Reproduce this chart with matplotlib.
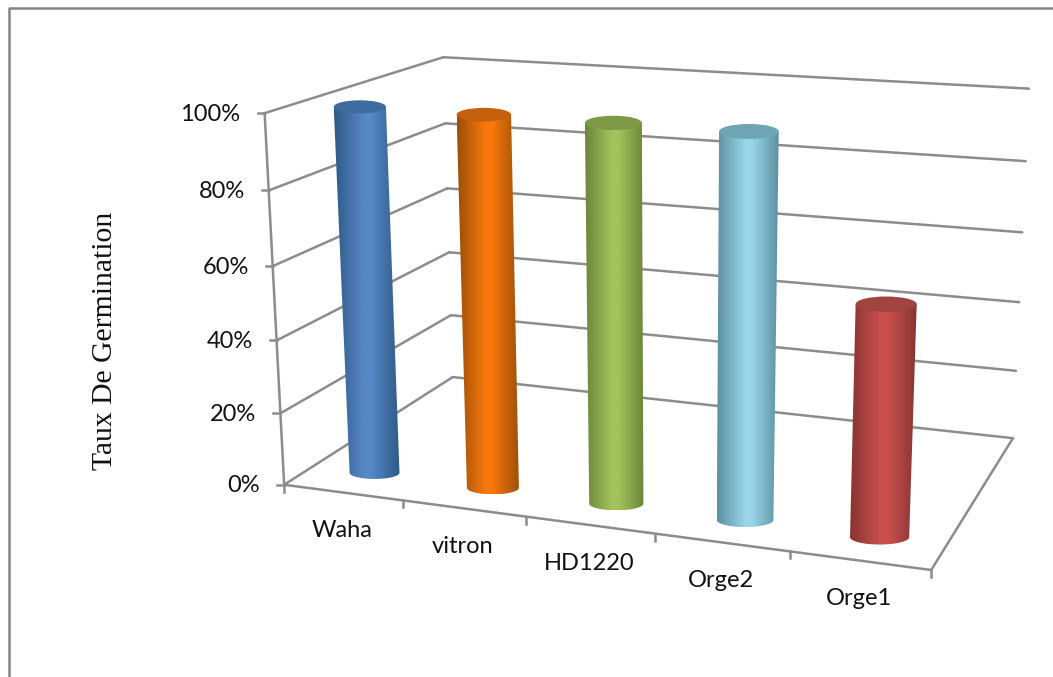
import numpy as np
import matplotlib
matplotlib.use('Agg')
import matplotlib.pyplot as plt
from matplotlib.colors import LinearSegmentedColormap
from matplotlib.patches import Ellipse, PathPatch
from matplotlib.path import Path

categories = ['Waha', 'vitron', 'HD1220', 'Orge2', 'Orge1']
values = [100, 100, 100, 100, 60]
value_ticks = [0, 20, 40, 60, 80, 100]

# edge, middle and top-cap shade of each cylinder
edge_colors = ['#2f5a86', '#9c4e08', '#6c8638', '#5c90a1', '#883331']
mid_colors = ['#5688c8', '#f8780c', '#a3c35d', '#99d6e9', '#c9504e']
cap_colors = ['#3e6c9e', '#c4600c', '#7e9946', '#6fa4b5', '#a04341']

GRID = '#8c8c8c'
DEPTH = 0.16      # depth of the cylinder axes on the floor
RADIUS = 0.043    # cylinder radius along the category axis
CAP_RATIO = 0.25  # flattening of the end ellipses
SHIFT = 0.004     # cylinders sit slightly right of the category centre

# box corners: (category pos, depth, value) -> pixel
corners = [
    ((0, 0, 0), (284, 484)),
    ((0, 0, 1), (265, 113)),
    ((1, 0, 0), (931, 571)),
    ((0, 1, 0), (453, 378)),
    ((0, 1, 1), (443, 57)),
    ((1, 1, 0), (1013, 437)),
    ((1, 1, 1), (1029, 89)),
]


def fit_projection(pairs):
    rows = []
    for (u, w, v), (px, py) in pairs:
        rows.append([u, w, v, 1, 0, 0, 0, 0, -px*u, -px*w, -px*v, -px])
        rows.append([0, 0, 0, 0, u, w, v, 1, -py*u, -py*w, -py*v, -py])
    return np.linalg.svd(np.array(rows, float))[2][-1].reshape(3, 4)


P = fit_projection(corners)


def project(u, w, v):
    x, y, s = P @ np.array([u, w, v, 1.0])
    return x / s, y / s


def line3d(ax, a, b, lw=1.8):
    pa, pb = project(*a), project(*b)
    ax.plot([pa[0], pb[0]], [pa[1], pb[1]], color=GRID, lw=lw, zorder=1,
            solid_capstyle='round')


def draw_cylinder(ax, i, value, z):
    u = (i + 0.5) / len(categories) + SHIFT
    v = value / 100
    bx, by = project(u, DEPTH, 0)
    tx, ty = project(u, DEPTH, v)
    ba = project(u + RADIUS, DEPTH, 0)[0] - project(u - RADIUS, DEPTH, 0)[0]
    ta = project(u + RADIUS, DEPTH, v)[0] - project(u - RADIUS, DEPTH, v)[0]
    ba, ta = ba / 2, ta / 2
    bb = ba * CAP_RATIO

    # body outline: left side, lower half of the base, right side
    t = np.linspace(np.pi, 0, 60)
    xs = np.r_[tx - ta, bx + ba * np.cos(t), tx + ta]
    ys = np.r_[ty, by + bb * np.sin(t), ty]
    body = PathPatch(Path(np.c_[xs, ys]), fc='none', ec='none', zorder=z)
    ax.add_patch(body)

    cmap = LinearSegmentedColormap.from_list(
        'c', [(0, edge_colors[i]), (0.46, mid_colors[i]),
              (0.56, mid_colors[i]), (1, edge_colors[i])])
    shade = np.linspace(0, 1, 256)
    im = ax.imshow(shade[None, :], cmap=cmap, vmin=0, vmax=1, aspect='auto',
                   extent=[xs.min(), xs.max(), ys.max(), ty], zorder=z,
                   interpolation='bilinear')
    im.set_clip_path(body)

    ax.add_patch(Ellipse((tx, ty), 2 * ta, 2 * ta * CAP_RATIO,
                         fc=cap_colors[i], ec='none', zorder=z + 0.5))


fig = plt.figure(figsize=(10.53, 6.77), dpi=100)
ax = fig.add_axes([0, 0, 1, 1])

# outer frame only shows on the top and left
ax.plot([8.5, 8.5, 1053], [677, 7.5, 7.5], color='#868686', lw=1.8, zorder=1)

# walls and floor
for tick in value_ticks:
    v = tick / 100
    line3d(ax, (0, 0, v), (0, 1, v))
    line3d(ax, (0, 1, v), (1, 1, v))
line3d(ax, (0, 0, 0), (0, 0, 1))
line3d(ax, (0, 0, 0), (1, 0, 0))
line3d(ax, (1, 0, 0), (1, 1, 0))

# value axis ticks and labels
for tick in value_ticks:
    x, y = project(0, 0, tick / 100)
    ax.plot([x - 7, x], [y, y], color=GRID, lw=1.8, zorder=1)
    ax.text(x - 24, y + 1, f'{tick}%', ha='right', va='center', fontsize=17,
            family='Lato', color='#111111')

# category ticks and labels
n = len(categories)
for i in range(n + 1):
    x, y = project(i / n, 0, 0)
    ax.plot([x, x], [y, y + 7], color=GRID, lw=1.8, zorder=1)
for i, name in enumerate(categories):
    x, y = project((i + 0.5) / n, 0, 0)
    ax.text(x - 1, y + 38, name, ha='center', va='center', fontsize=17,
            family='Lato', color='#111111')

for i, value in enumerate(values):
    draw_cylinder(ax, i, value, 3 + i)

ax.text(105, 341, 'Taux De Germination', rotation=90, ha='center', va='center',
        fontsize=21.3, family='Liberation Serif', color='#111111')

ax.set_xlim(0, 1053)
ax.set_ylim(677, 0)
ax.axis('off')
fig.savefig('out.png', dpi=100)
